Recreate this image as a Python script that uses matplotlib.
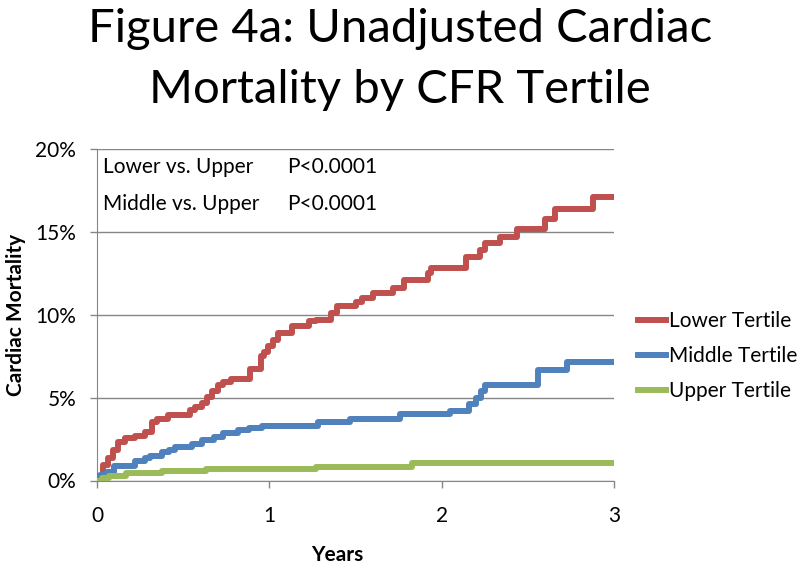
import matplotlib
matplotlib.use("Agg")
import matplotlib.pyplot as plt

# Kaplan-Meier style cumulative cardiac mortality (%)
lower_years = [0, 0.01, 0.035, 0.065, 0.09, 0.12, 0.16, 0.22, 0.28, 0.32,
               0.35, 0.41, 0.54, 0.57, 0.61, 0.64, 0.67, 0.70, 0.73, 0.78,
               0.89, 0.95, 0.97, 0.99, 1.02, 1.05, 1.13, 1.23, 1.27, 1.36,
               1.39, 1.50, 1.54, 1.60, 1.72, 1.78, 1.92, 1.94, 2.14, 2.22,
               2.25, 2.34, 2.44, 2.60, 2.66, 2.88, 3.0]
lower_mort = [0, 0.3, 0.95, 1.35, 1.85, 2.3, 2.55, 2.7, 2.95, 3.55,
              3.7, 3.95, 4.25, 4.45, 4.7, 5.05, 5.4, 5.75, 5.95, 6.1,
              6.7, 7.5, 7.75, 8.1, 8.5, 8.9, 9.35, 9.6, 9.7, 10.1,
              10.55, 10.75, 11.0, 11.3, 11.6, 12.1, 12.5, 12.8, 13.5, 13.9,
              14.3, 14.7, 15.2, 15.8, 16.4, 17.1, 17.1]

middle_years = [0, 0.02, 0.06, 0.10, 0.22, 0.28, 0.31, 0.38, 0.42, 0.45,
                0.55, 0.61, 0.68, 0.73, 0.82, 0.88, 0.96, 1.28, 1.47, 1.76,
                2.05, 2.16, 2.20, 2.23, 2.25, 2.56, 2.73, 3.0]
middle_mort = [0, 0.35, 0.5, 0.9, 1.15, 1.35, 1.5, 1.7, 1.85, 2.05,
               2.2, 2.45, 2.65, 2.85, 3.05, 3.15, 3.3, 3.5, 3.7, 4.0,
               4.2, 4.6, 5.0, 5.4, 5.75, 6.65, 7.15, 7.15]

upper_years = [0, 0.03, 0.07, 0.17, 0.38, 0.63, 1.27, 1.83, 3.0]
upper_mort = [0, 0.15, 0.3, 0.45, 0.55, 0.7, 0.8, 1.05, 1.05]

x_ticks = [0, 1, 2, 3]
y_ticks = [0, 5, 10, 15, 20]
y_ticklabels = ["0%", "5%", "10%", "15%", "20%"]

plt.rcParams['font.family'] = ['Lato', 'DejaVu Sans']

fig = plt.figure(figsize=(8, 5.67), dpi=100)
ax = fig.add_axes([97/800, 1 - 480.5/567, 517/800, 331.5/567])

grid_col = '#868686'
ax.step(lower_years, lower_mort, where='post', color='#C0504D', lw=4.3, label='Lower Tertile', zorder=3)
ax.step(middle_years, middle_mort, where='post', color='#4F81BD', lw=4.3, label='Middle Tertile', zorder=3)
ax.step(upper_years, upper_mort, where='post', color='#9BBB59', lw=4.3, label='Upper Tertile', zorder=3)

ax.set_xlim(0, 3)
ax.set_ylim(0, 20)
ax.set_xticks(x_ticks)
ax.set_yticks(y_ticks)
ax.set_yticklabels(y_ticklabels)
ax.grid(axis='y', color=grid_col, lw=1)
ax.set_axisbelow(True)
for s in ['top', 'right']:
    ax.spines[s].set_visible(False)
for s in ['left', 'bottom']:
    ax.spines[s].set_color(grid_col)
ax.tick_params(axis='both', colors=grid_col, labelcolor='black', labelsize=15, length=5, width=1)
ax.tick_params(axis='y', pad=10)
ax.tick_params(axis='x', pad=13)

# p-value box text
ax.text(0.012, 0.928, "Lower vs. Upper", transform=ax.transAxes, fontsize=15, va='baseline')
ax.text(0.3675, 0.928, "P<0.0001", transform=ax.transAxes, fontsize=15, va='baseline')
ax.text(0.012, 0.816, "Middle vs. Upper", transform=ax.transAxes, fontsize=15, va='baseline')
ax.text(0.3675, 0.816, "P<0.0001", transform=ax.transAxes, fontsize=15, va='baseline')

# titles and axis labels
fig.text(0.5, 1 - 42/567, "Figure 4a: Unadjusted Cardiac", ha='center', va='baseline', fontsize=34)
fig.text(0.5, 1 - 103/567, "Mortality by CFR Tertile", ha='center', va='baseline', fontsize=34)
fig.text(16/800, 1 - 315/567, "Cardiac Mortality", rotation=90, ha='center', va='center',
         fontsize=15, fontweight='bold')
fig.text(337/800, 1 - 555/567, "Years", ha='center', va='center', fontsize=15, fontweight='bold')

fig.legend(loc='center left', bbox_to_anchor=(638/800, 1 - 356/567), frameon=False,
           fontsize=15, handlelength=1.35, handletextpad=0.15, labelspacing=0.72,
           borderpad=0, borderaxespad=0)

fig.savefig("out.png", dpi=100)
